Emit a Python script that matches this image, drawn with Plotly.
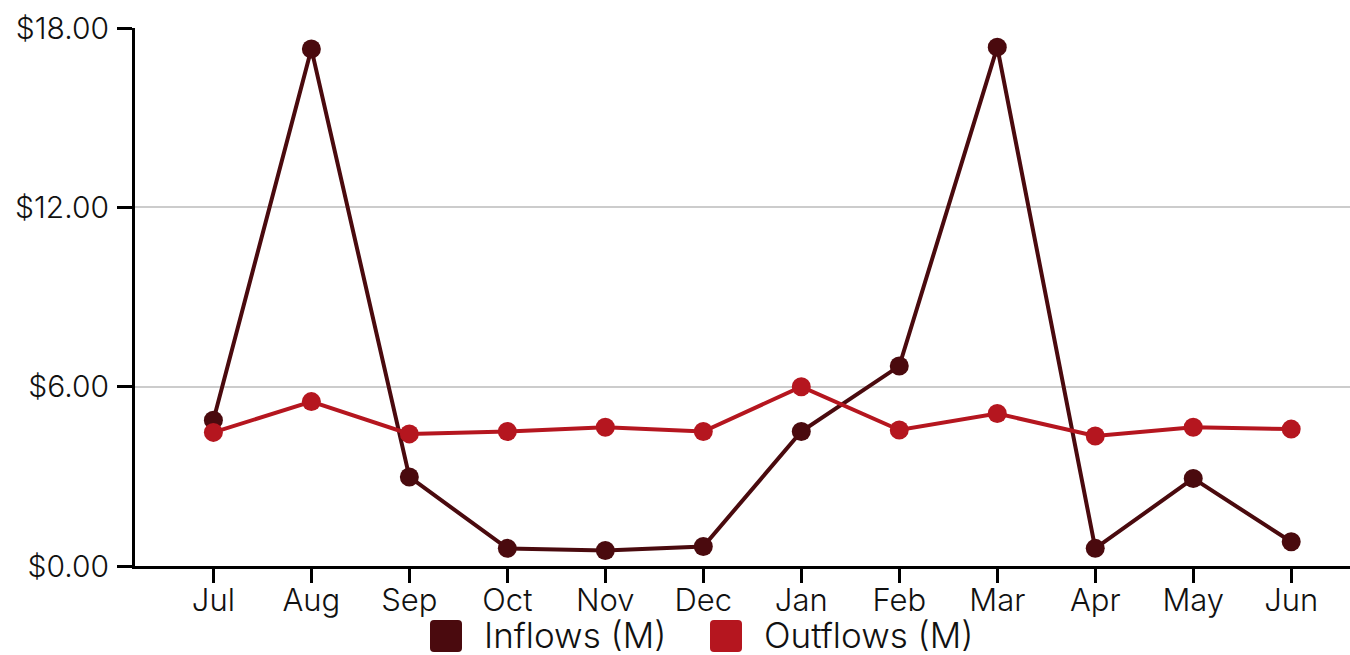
import plotly.graph_objects as go

months = ["Jul", "Aug", "Sep", "Oct", "Nov", "Dec", "Jan", "Feb", "Mar", "Apr", "May", "Jun"]
inflows = [4.88, 17.30, 2.98, 0.59, 0.52, 0.65, 4.50, 6.69, 17.36, 0.59, 2.93, 0.81]
outflows = [4.47, 5.50, 4.42, 4.50, 4.64, 4.50, 6.00, 4.55, 5.10, 4.35, 4.64, 4.58]
series_names = ["Inflows (M)", "Outflows (M)"]
colors = ["#4a0a0e", "#b5161f"]
y_ticks = [0, 6, 12, 18]

FONT = "Inter, Roboto, sans-serif"

fig = go.Figure()
for name, vals, col in zip(series_names, [inflows, outflows], colors):
    fig.add_trace(go.Scatter(
        x=list(range(len(months))), y=vals, name=name, mode="lines+markers",
        line=dict(color=col, width=4),
        marker=dict(color=col, size=19),
        showlegend=False, cliponaxis=False,
    ))

# custom legend (rounded squares + labels), positioned in pixels from plot origin
legend_pos = [(295, 347), (575, 627)]
for (sx, tx), name, col in zip(legend_pos, series_names, colors):
    x0, x1, y0, y1, r = sx, sx + 32, -86, -54, 4
    path = (f"M{x0+r},{y0} L{x1-r},{y0} Q{x1},{y0} {x1},{y0+r} L{x1},{y1-r} "
            f"Q{x1},{y1} {x1-r},{y1} L{x0+r},{y1} Q{x0},{y1} {x0},{y1-r} "
            f"L{x0},{y0+r} Q{x0},{y0} {x0+r},{y0} Z")
    fig.add_shape(type="path", xref="paper", yref="paper", xsizemode="pixel",
                  ysizemode="pixel", xanchor=0, yanchor=0, path=path,
                  fillcolor=col, line=dict(width=0))
    fig.add_annotation(x=0, y=0, xref="paper", yref="paper", text=name,
                       showarrow=False, xanchor="left", yanchor="middle",
                       xshift=tx, yshift=-69,
                       font=dict(family=FONT, size=35, color="#111", weight=300))

fig.update_layout(
    width=1350, height=655,
    margin=dict(l=135, r=0, t=28, b=89),
    plot_bgcolor="white", paper_bgcolor="white",
    font=dict(family=FONT, size=30, color="#111", weight=300),
    showlegend=False,
    xaxis=dict(
        tickmode="array", tickvals=list(range(len(months))), ticktext=months,
        range=[-0.8, 11.6], showgrid=False, zeroline=False,
        showline=True, linecolor="black", linewidth=3,
        ticks="outside", ticklen=14, tickwidth=3, tickcolor="black",
        ticklabelstandoff=-9,
        tickfont=dict(size=31, family=FONT, color="#111", weight=300),
    ),
    yaxis=dict(
        range=[0, 18], tickvals=y_ticks, tickformat="$.2f",
        showgrid=True, gridcolor="#cccccc", gridwidth=2, zeroline=False,
        showline=True, linecolor="black", linewidth=3,
        ticks="outside", ticklen=15, tickwidth=3, tickcolor="black",
        ticklabelstandoff=2,
        tickfont=dict(size=30, family=FONT, color="#111", weight=300),
    ),
)

fig.write_html("out.html")
